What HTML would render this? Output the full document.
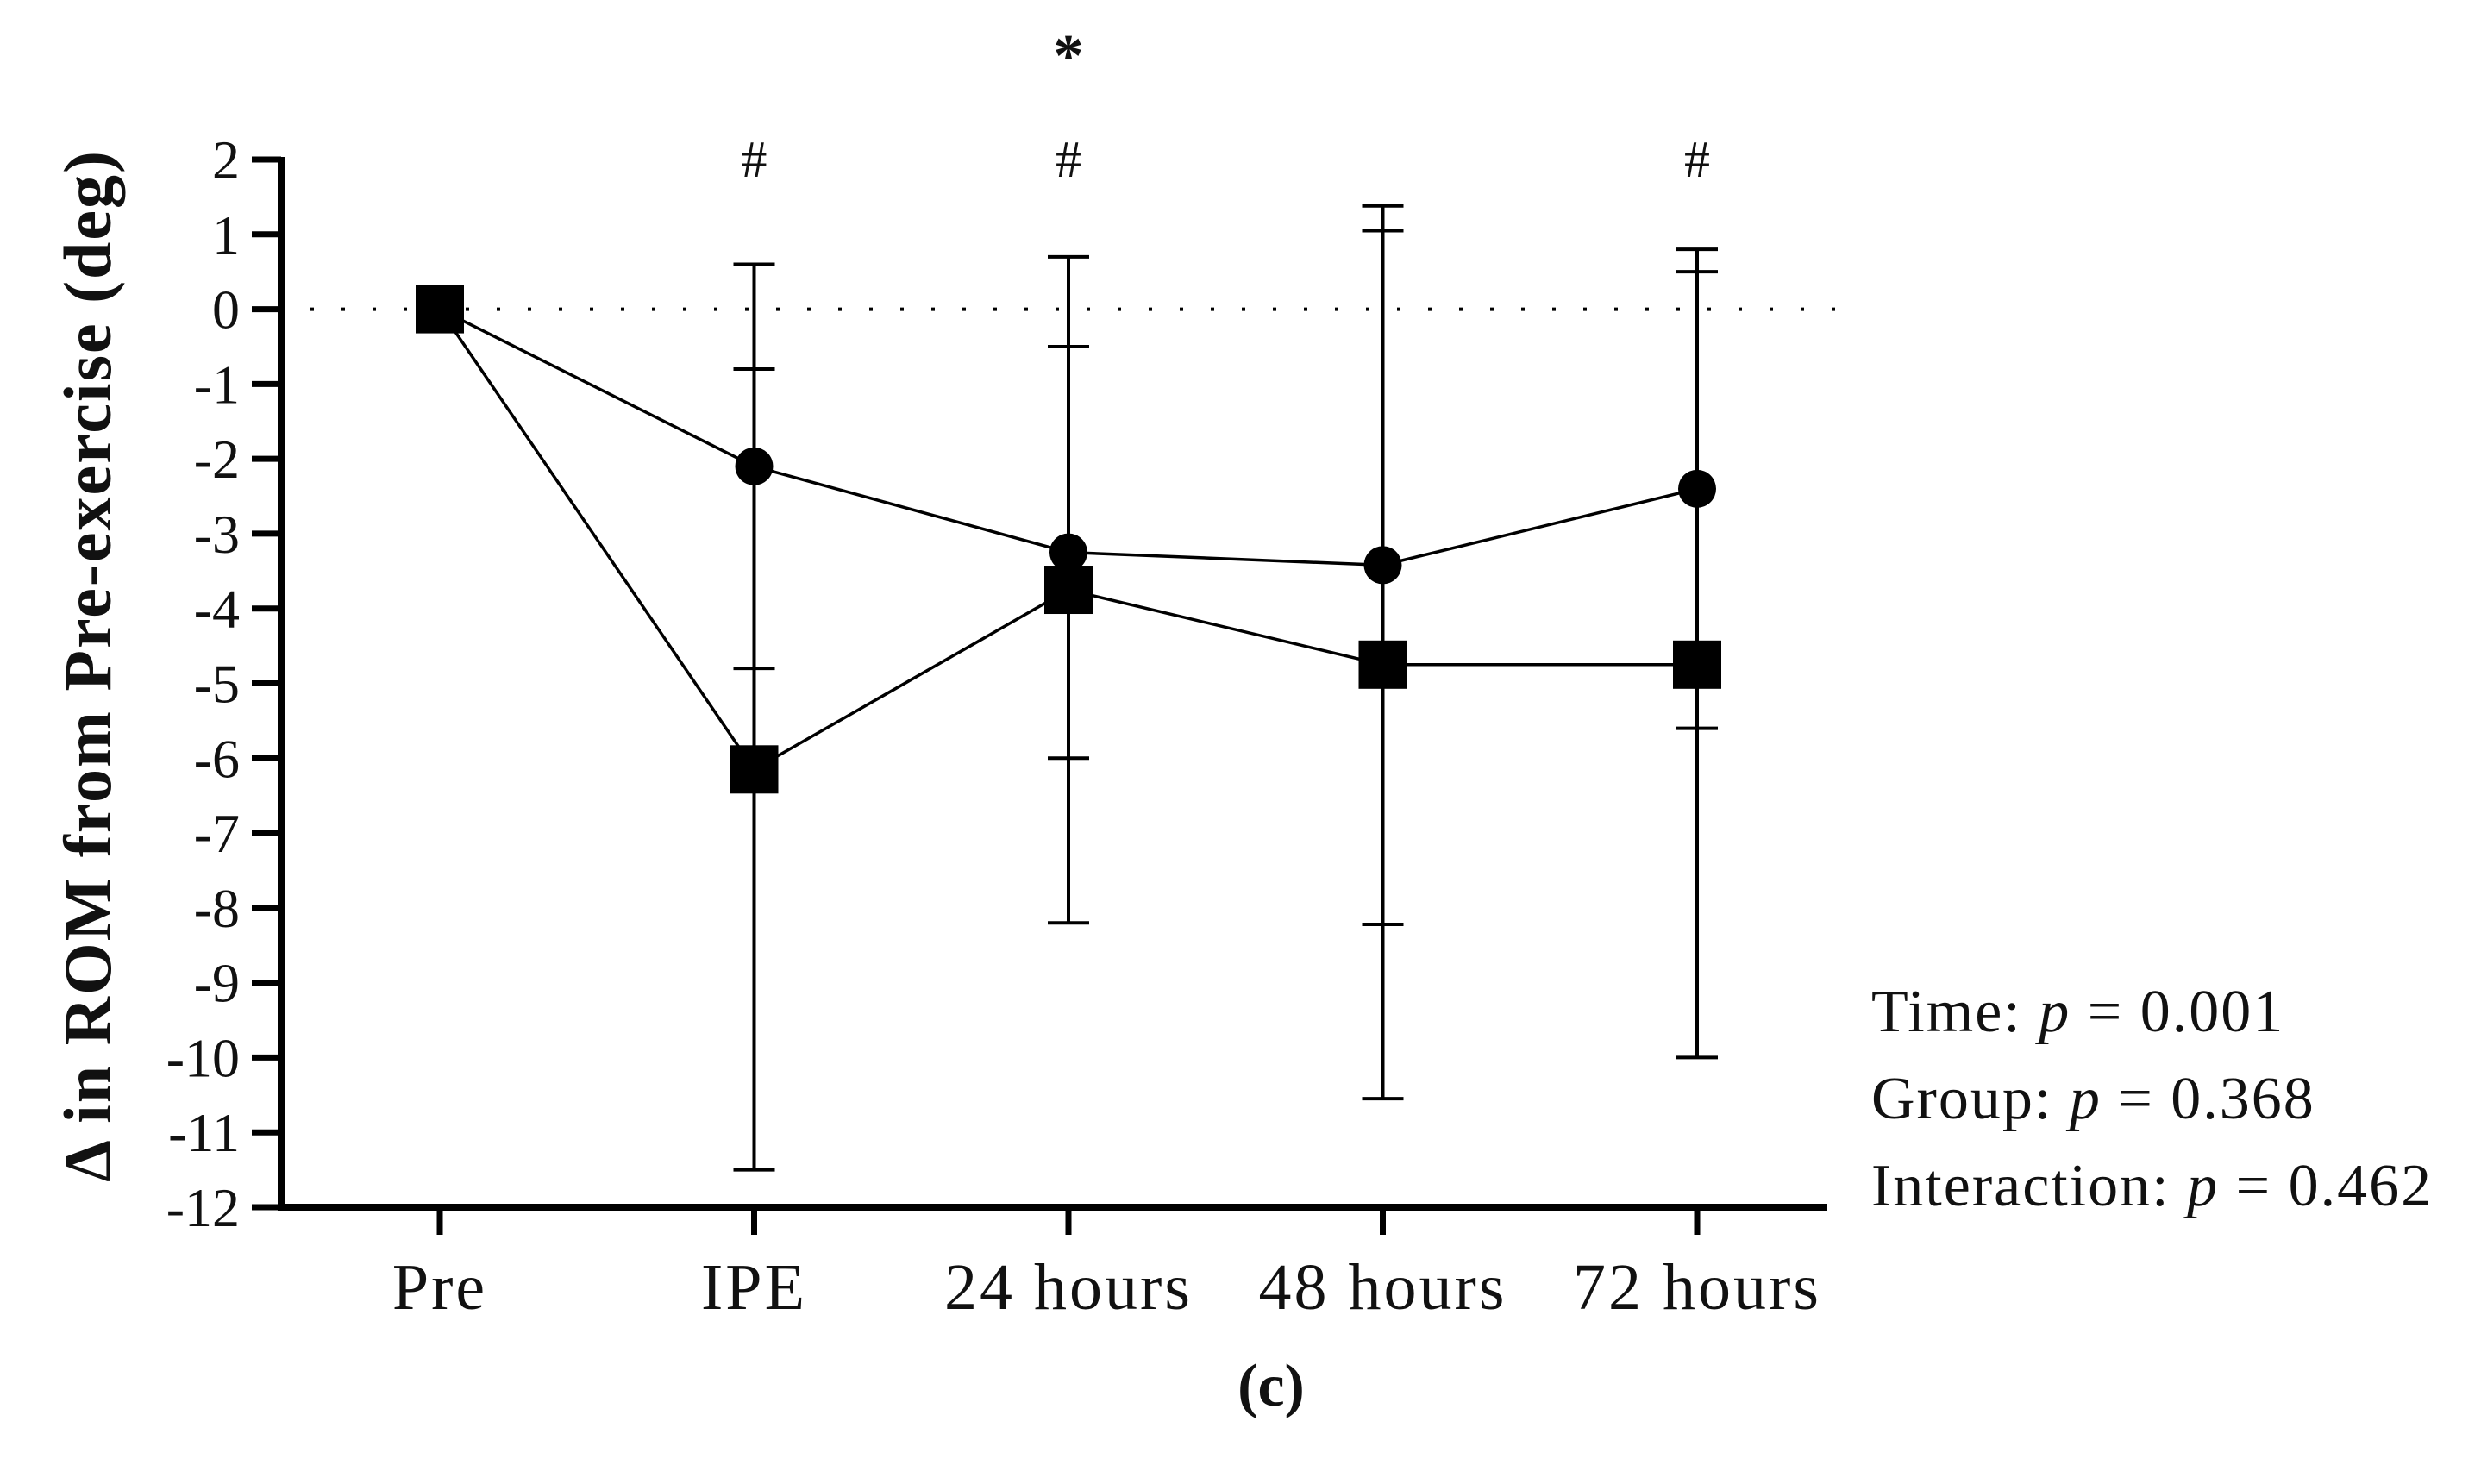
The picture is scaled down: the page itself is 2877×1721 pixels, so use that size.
<!DOCTYPE html>
<html><head><meta charset="utf-8"><style>
html,body{margin:0;padding:0;background:#fff;}
svg{display:block;}
text{font-family:"Liberation Serif",serif;fill:#111;}
</style></head><body>
<svg id="chart" width="2877" height="1721" viewBox="0 0 2877 1721" xmlns="http://www.w3.org/2000/svg">
<g id="axes"></g>
<g id="marks"></g>
<text x="0" y="0" transform="translate(128,772) rotate(-90)" text-anchor="middle" font-size="78" font-weight="bold" style="letter-spacing:2px">Δ in ROM from Pre-exercise (deg)</text>
<text x="2170" y="1196" font-size="70" style="letter-spacing:2px">Time: <tspan font-style="italic">p</tspan> = 0.001</text>
<text x="2170" y="1297" font-size="70" style="letter-spacing:2px">Group: <tspan font-style="italic">p</tspan> = 0.368</text>
<text x="2170" y="1398" font-size="70" style="letter-spacing:2px">Interaction: <tspan font-style="italic">p</tspan> = 0.462</text>
<text x="1474" y="1630" font-size="70" font-weight="bold" text-anchor="middle">(c)</text>
</svg>
<script>
const categories = ["Pre","IPE","24 hours","48 hours","72 hours"];
const circleMean = [0,-2.1,-3.25,-3.42,-2.4];
const circleSD = [0,2.7,2.75,4.8,3.2];
const squareMean = [0,-6.15,-3.75,-4.75,-4.75];
const squareSD = [0,5.35,4.45,5.8,5.25];
const yTicks = [2,1,0,-1,-2,-3,-4,-5,-6,-7,-8,-9,-10,-11,-12];
const annotations = [["IPE","#"],["24 hours","#"],["24 hours","*"],["72 hours","#"]];

const NS="http://www.w3.org/2000/svg";
const X0=326,X1=2119,Y2=185,Ym12=1400;
function y(v){return Y2+(2-v)*(Ym12-Y2)/14;}
function x(i){return 510+i*364.5;}
function mk(tag,attrs,parent){const e=document.createElementNS(NS,tag);for(const k in attrs)e.setAttribute(k,attrs[k]);parent.appendChild(e);return e;}
const axes=document.getElementById('axes'),marks=document.getElementById('marks');

const yl=mk('line',{x1:X0,y1:y(2)-3,x2:X0,y2:Ym12+4,stroke:'#000','stroke-width':8},axes);


const xl=mk('line',{x1:X0-4,y1:Ym12,x2:X1,y2:Ym12,stroke:'#000','stroke-width':8},axes);


yTicks.forEach(v=>{
  const t=mk('line',{x1:X0-34,y1:y(v),x2:X0,y2:y(v),stroke:'#000','stroke-width':7},axes);
  
  
  const l=mk('text',{x:X0-48,y:y(v)+22,'text-anchor':'end','font-size':64},axes);
  
  
  l.textContent=v<0?'-'+Math.abs(v):String(v);
});
categories.forEach((c,i)=>{
  const t=mk('line',{x1:x(i),y1:Ym12,x2:x(i),y2:Ym12+32,stroke:'#000','stroke-width':7},axes);
  
  
  const l=mk('text',{x:x(i),y:Ym12+118,'text-anchor':'middle','font-size':76,style:'letter-spacing:3px'},axes);
  
  
  l.textContent=c;
});
const zl=mk('line',{x1:360,y1:y(0),x2:2135,y2:y(0),stroke:'#000','stroke-width':4,'stroke-dasharray':'4 32'},marks);



function errbar(i,m,s,name){
  if(!s)return;
  const g=mk('g',{stroke:'#000','stroke-width':4},marks);
  
  
  mk('line',{x1:x(i),y1:y(m+s),x2:x(i),y2:y(m-s)},g);
  mk('line',{x1:x(i)-24,y1:y(m+s),x2:x(i)+24,y2:y(m+s)},g);
  mk('line',{x1:x(i)-24,y1:y(m-s),x2:x(i)+24,y2:y(m-s)},g);
}
categories.forEach((c,i)=>{errbar(i,circleMean[i],circleSD[i],'error-bar-circle');errbar(i,squareMean[i],squareSD[i],'error-bar-square');});

function series(means,name){
  const pts=means.map((m,i)=>x(i)+','+y(m)).join(' ');
  const p=mk('polyline',{points:pts,fill:'none',stroke:'#000','stroke-width':3.5},marks);
  
  
}
series(circleMean,'circle-series-line');
series(squareMean,'square-series-line');
circleMean.forEach((m,i)=>{
  if(i===0)return;
  const c=mk('circle',{cx:x(i),cy:y(m),r:22,fill:'#000'},marks);
  
  
});
squareMean.forEach((m,i)=>{
  const r=mk('rect',{x:x(i)-28,y:y(m)-28,width:56,height:56,fill:'#000'},marks);
  
  
});
annotations.forEach(a=>{
  const i=categories.indexOf(a[0]);
  const t=mk('text',{x:x(i),y:a[1]==='*'?88:205,'text-anchor':'middle','font-size':a[1]==='*'?70:60,'font-weight':a[1]==='*'?'bold':'normal'},marks);
  
  
  t.textContent=a[1];
});
</script>
</body></html>
